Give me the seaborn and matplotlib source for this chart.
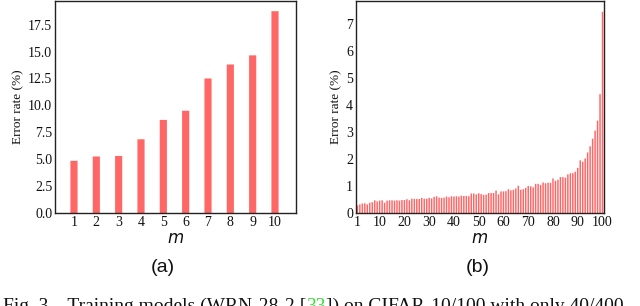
import matplotlib
matplotlib.use("Agg")
import matplotlib.pyplot as plt
import seaborn as sns
import numpy as np

# ---- data ----
m_a = [1, 2, 3, 4, 5, 6, 7, 8, 9, 10]
err_a = [4.85, 5.25, 5.3, 6.85, 8.65, 9.5, 12.5, 13.8, 14.65, 18.75]

m_b = list(range(1, 101))
err_b = [0.28, 0.32, 0.35, 0.36, 0.32, 0.38, 0.40, 0.47, 0.43, 0.46,
         0.47, 0.38, 0.46, 0.47, 0.47, 0.46, 0.47, 0.46, 0.48, 0.48,
         0.51, 0.47, 0.53, 0.52, 0.52, 0.52, 0.56, 0.53, 0.53, 0.56,
         0.54, 0.60, 0.62, 0.57, 0.56, 0.57, 0.61, 0.58, 0.62, 0.61,
         0.62, 0.61, 0.64, 0.63, 0.63, 0.62, 0.72, 0.72, 0.69, 0.73,
         0.70, 0.67, 0.68, 0.74, 0.74, 0.74, 0.83, 0.69, 0.80, 0.80,
         0.81, 0.88, 0.84, 0.86, 0.91, 1.01, 0.86, 0.88, 0.93, 1.00,
         0.99, 0.95, 1.08, 1.08, 1.04, 1.13, 1.10, 1.12, 1.12, 1.28,
         1.19, 1.23, 1.33, 1.33, 1.31, 1.43, 1.47, 1.48, 1.53, 1.67,
         1.95, 1.90, 2.02, 2.24, 2.47, 2.75, 3.05, 3.42, 4.40, 7.45]

yticks_a = [0.0, 2.5, 5.0, 7.5, 10.0, 12.5, 15.0, 17.5]
yticks_b = [0, 1, 2, 3, 4, 5, 6, 7]
xticks_b = [1, 10, 20, 30, 40, 50, 60, 70, 80, 90, 100]

bar_color = "#ff6666"

sns.set_theme(style="white")
plt.rcParams["font.family"] = ["Liberation Serif", "DejaVu Serif"]

fig = plt.figure(figsize=(6.4, 3.06), dpi=100)
W, H = 640, 306

def add_axes(l, r, t, b):
    return fig.add_axes([l / W, 1 - b / H, (r - l) / W, (b - t) / H])

ax1 = add_axes(55, 296, 1, 213)
ax2 = add_axes(356, 604, 1, 213)

sns.barplot(x=m_a, y=err_a, ax=ax1, color=bar_color, saturation=1,
            native_scale=True, width=0.32, linewidth=0)
sns.barplot(x=m_b, y=err_b, ax=ax2, color=bar_color, saturation=1,
            native_scale=True, width=0.6, linewidth=0)

for ax in (ax1, ax2):
    for p in ax.patches:
        p.set_snap(False)
        p.set_antialiased(True)

ax1.set_xlim(0.15, 10.94)
ax1.set_ylim(0, 19.7)
ax1.set_xticks(m_a)
ax1.set_xticklabels([str(v) for v in m_a])
ax1.set_yticks(yticks_a)
ax1.set_yticklabels([f"{v:.1f}" for v in yticks_a])

ax2.set_xlim(0.45, 100.6)
ax2.set_ylim(0, 7.85)
ax2.set_xticks(xticks_b)
ax2.set_xticklabels([str(v) for v in xticks_b])
ax2.set_yticks(yticks_b)
ax2.set_yticklabels([str(v) for v in yticks_b])

for ax in (ax1, ax2):
    for s in ax.spines.values():
        s.set_visible(True)
        s.set_color("#222222")
        s.set_linewidth(1.0)
    ax.tick_params(axis="both", labelsize=10, length=0, pad=2, colors="#111111")
    ax.set_ylabel("Error rate (%)", fontsize=9.5, color="#111111", labelpad=3)
    ax.set_xlabel("m", fontsize=12, fontstyle="italic", family=["DejaVu Sans"],
                  color="#111111", labelpad=0)

fig.text(163 / W, 1 - 268 / H, "(a)", ha="center", va="center", fontsize=14,
         family=["Liberation Sans", "DejaVu Sans"], color="#111111")
fig.text(478 / W, 1 - 268 / H, "(b)", ha="center", va="center", fontsize=14,
         family=["Liberation Sans", "DejaVu Sans"], color="#111111")

cap_fs = 14
t1 = fig.text(3 / W, 1 - 311 / H, "Fig. 3.   Training models (WRN-28-2 [",
              ha="left", va="baseline", fontsize=cap_fs, color="#111111")
ann = fig.text(0, 0, "", fontsize=cap_fs)
ann.remove()
ann = plt.annotate("33", xy=(1, 0), xycoords=t1, xytext=(0, 0),
                   textcoords="offset points", ha="left", va="bottom",
                   fontsize=cap_fs, color="#33dd33", annotation_clip=False)
plt.annotate("]) on CIFAR-10/100 with only 40/400", xy=(1, 0),
             xycoords=ann, ha="left", va="bottom", fontsize=cap_fs,
             color="#111111", annotation_clip=False)

fig.savefig("out.png", dpi=100)
